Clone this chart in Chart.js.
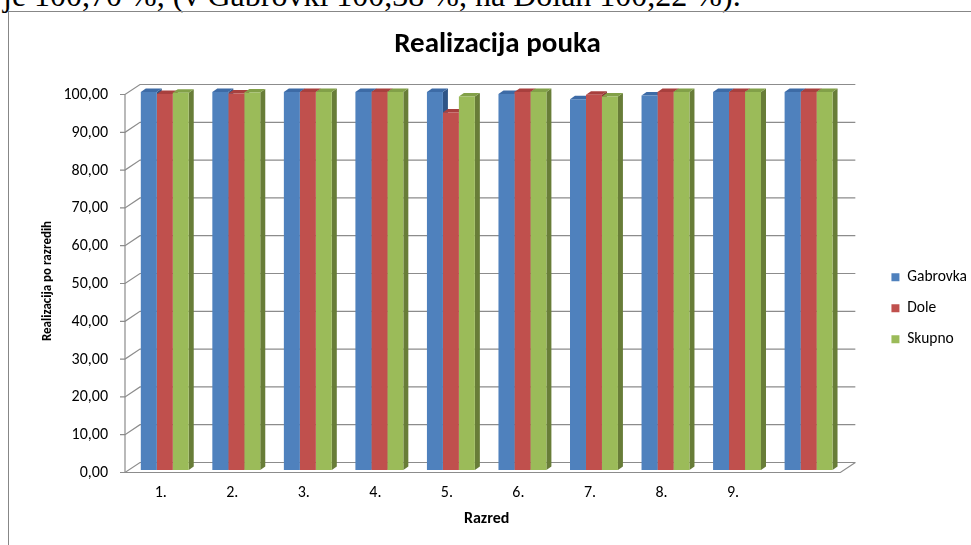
<!DOCTYPE html>
<html>
<head>
<meta charset="utf-8">
<script src="https://cdn.jsdelivr.net/npm/chart.js@4.4.0/dist/chart.umd.min.js"></script>
<style>
  html, body { margin:0; padding:0; background:#fff; width:971px; height:545px; overflow:hidden; }
  #topText { position:absolute; left:3px; top:-21px; font-family:"Liberation Serif","Times New Roman",serif; font-size:32px; line-height:32px; color:#000; white-space:nowrap; }
  #frame { position:absolute; left:8px; top:11px; width:1000px; height:600px; border-top:1.5px solid #878787; border-left:1.5px solid #878787; }
  #wrap { position:absolute; left:0; top:0; width:971px; height:545px; }
</style>
</head>
<body>
<div id="topText">je 100,70 %, (v Gabrovki 100,38 %, na Dolah 100,22 %).</div>
<div id="frame"></div>
<div id="wrap"><canvas id="c" width="971" height="545"></canvas></div>
<script>
const categories = ['1.', '2.', '3.', '4.', '5.', '6.', '7.', '8.', '9.', ''];
const gabrovka = [100, 100, 100, 100, 100, 99.5, 98.1, 99.1, 100, 100];
const dole     = [99.5, 99.6, 100, 100, 94.6, 100, 99.3, 100, 100, 100];
const skupno   = [99.8, 99.9, 100, 100, 98.8, 100, 98.8, 100, 100, 100];
const seriesNames = ['Gabrovka', 'Dole', 'Skupno'];
const yTicks = [0, 10, 20, 30, 40, 50, 60, 70, 80, 90, 100];

const FONT = 'Carlito, Lato, "Open Sans", sans-serif';
const colors = {
  front: ['#4F81BD', '#C0504D', '#9BBB59'],
  top:   ['#3D6BA6', '#A8403E', '#82A048'],
  side:  ['#2F5587', '#8A3533', '#687D38']
};
const DX = 5, DY = -3.5;       // bar depth
const WX = 15, WY = -10;       // wall depth

const bar3d = {
  id: 'bar3d',
  beforeDatasetsDraw(chart) {
    const {ctx, chartArea: ca} = chart;
    const ys = chart.scales.y;
    ctx.save();
    ctx.strokeStyle = '#8c8c8c';
    ctx.lineWidth = 1.2;
    const fl = ca.left - 4, fr = ca.right - 4;
    yTicks.forEach(v => {
      const yb = ys.getPixelForValue(v);
      const yf = yb + 2.5, yk = yf + WY;
      ctx.beginPath();
      ctx.moveTo(fl - 5, yf); ctx.lineTo(fl, yf);
      ctx.lineTo(fl + WX, yk);
      ctx.lineTo(fr + WX, yk);
      ctx.stroke();
    });
    const y0f = ys.getPixelForValue(0) + 2.5;
    const y100f = ys.getPixelForValue(100) + 2.5;
    ctx.beginPath();
    ctx.moveTo(fl, y100f); ctx.lineTo(fl, y0f);
    ctx.lineTo(fr, y0f); ctx.lineTo(fr + WX, y0f + WY);
    ctx.stroke();
    chart.data.datasets.forEach((ds, i) => {
      const meta = chart.getDatasetMeta(i);
      meta.data.forEach(bar => {
        const p = bar.getProps(['x', 'y', 'base', 'width'], true);
        const l = p.x - p.width / 2, r = p.x + p.width / 2;
        ctx.fillStyle = colors.side[i];
        ctx.beginPath();
        ctx.moveTo(r, p.y); ctx.lineTo(r + DX, p.y + DY);
        ctx.lineTo(r + DX, p.base + DY); ctx.lineTo(r, p.base);
        ctx.closePath(); ctx.fill();
        ctx.fillStyle = colors.top[i];
        ctx.beginPath();
        ctx.moveTo(l, p.y); ctx.lineTo(l + DX, p.y + DY);
        ctx.lineTo(r + DX, p.y + DY); ctx.lineTo(r, p.y);
        ctx.closePath(); ctx.fill();
      });
    });
    ctx.restore();
  }
};

new Chart(document.getElementById('c'), {
  type: 'bar',
  data: {
    labels: categories,
    datasets: [
      { label: seriesNames[0], data: gabrovka, backgroundColor: colors.front[0] },
      { label: seriesNames[1], data: dole,     backgroundColor: colors.front[1] },
      { label: seriesNames[2], data: skupno,   backgroundColor: colors.front[2] }
    ]
  },
  options: {
    responsive: false,
    animation: false,
    layout: { padding: { left: 18, right: -6, top: 0, bottom: 0 } },
    datasets: { bar: { categoryPercentage: 0.67, barPercentage: 1, borderWidth: 0 } },
    plugins: {
      tooltip: { enabled: false },
      title: {
        display: true, text: 'Realizacija pouka', color: '#000',
        font: { family: FONT, size: 29, weight: 'bold' },
        padding: { top: 27.6, bottom: 29.6 }
      },
      legend: {
        display: true, position: 'right', align: 'start', fullSize: false,
        title: { display: true, text: '', font: { size: 10 }, padding: { top: 150, bottom: 0 } },
        labels: {
          boxWidth: 8, boxHeight: 8, padding: 15.5, color: '#000',
          font: { family: FONT, size: 15.5 }
        }
      }
    },
    scales: {
      x: {
        grid: { display: false, drawTicks: false },
        border: { display: false },
        ticks: { color: '#000', font: { family: FONT, size: 16 }, padding: 13.4, labelOffset: -4, maxRotation: 0, autoSkip: false },
        title: { display: true, text: 'Razred', color: '#000', font: { family: FONT, size: 16, weight: 'bold' }, padding: { top: 0, bottom: 16.4 } },
        afterFit(s) { s.height = 75; }
      },
      y: {
        min: 0, max: 100,
        grid: { display: false, drawTicks: false },
        border: { display: false },
        afterBuildTicks(s) { s.ticks = yTicks.map(v => ({ value: v })); },
        ticks: {
          color: '#000', font: { family: FONT, size: 16 }, padding: 21, labelOffset: 3,
          callback: v => v.toFixed(2).replace('.', ',')
        },
        title: { display: true, text: 'Realizacija po razredih', color: '#000', font: { family: FONT, size: 13, weight: 'bold' }, padding: { top: 22.2, bottom: 0 } },
        afterFit(s) { s.width = 111; }
      },
      yR: {
        position: 'right', display: true, min: 0, max: 100,
        grid: { display: false, drawTicks: false },
        border: { display: false },
        ticks: { display: false },
        afterFit(s) { s.width = 31.6; }
      }
    }
  },
  plugins: [bar3d]
});
</script>
</body>
</html>
